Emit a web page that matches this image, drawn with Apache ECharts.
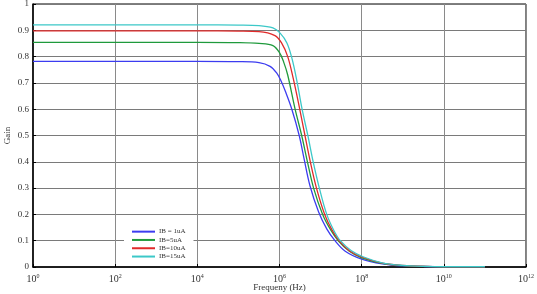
<!DOCTYPE html>
<html>
<head>
<meta charset="utf-8">
<script src="https://cdn.jsdelivr.net/npm/echarts@6/dist/echarts.min.js"></script>
<style>
  html, body { margin: 0; padding: 0; background: #fff; }
  #chart { width: 537px; height: 294px; }
</style>
</head>
<body>
<div id="chart"></div>
<script>
// frequency as log10(Hz), gain
var seriesNames = ['IB = 1uA', 'IB=5uA', 'IB=10uA', 'IB=15uA'];
var seriesColors = ['#3c3cf0', '#1f9a3c', '#e02a2a', '#3cc8c8'];

var ib1 = [[0, 0.782], [4, 0.782], [5, 0.781], [5.5, 0.777], [5.77, 0.763], [5.93, 0.738], [6.03, 0.71],
  [6.15, 0.665], [6.3, 0.6], [6.48, 0.5], [6.6, 0.41], [6.74, 0.31], [6.95, 0.21], [7.15, 0.145],
  [7.35, 0.1], [7.6, 0.06], [8.0, 0.03], [8.5, 0.012], [9, 0.004], [9.5, 0.002], [10, 0.001], [11, 0.001]];
var ib5 = [[0, 0.854], [4, 0.854], [5, 0.853], [5.5, 0.85], [5.84, 0.842], [6.0, 0.815], [6.1, 0.78],
  [6.2, 0.73], [6.38, 0.6], [6.54, 0.5], [6.68, 0.4], [6.83, 0.3], [7.05, 0.2], [7.25, 0.14],
  [7.43, 0.1], [7.7, 0.06], [8.0, 0.035], [8.5, 0.014], [9, 0.005], [9.5, 0.002], [10, 0.001], [11, 0.001]];
var ib10 = [[0, 0.898], [4, 0.898], [5, 0.897], [5.5, 0.895], [5.89, 0.88], [6.05, 0.852], [6.2, 0.8],
  [6.33, 0.72], [6.48, 0.61], [6.62, 0.5], [6.75, 0.4], [6.9, 0.3], [7.1, 0.2], [7.28, 0.14],
  [7.45, 0.1], [7.7, 0.062], [8.0, 0.038], [8.5, 0.015], [9, 0.006], [9.5, 0.002], [10, 0.001], [11, 0.001]];
var ib15 = [[0, 0.921], [4, 0.921], [5, 0.92], [5.5, 0.918], [5.84, 0.909], [6.01, 0.89], [6.18, 0.852],
  [6.3, 0.795], [6.42, 0.71], [6.55, 0.6], [6.69, 0.5], [6.82, 0.4], [6.97, 0.3], [7.15, 0.2],
  [7.32, 0.14], [7.48, 0.1], [7.75, 0.062], [8.05, 0.038], [8.5, 0.016], [9, 0.006], [9.5, 0.002], [10, 0.001], [11, 0.001]];
var allData = [ib1, ib5, ib10, ib15];

var myChart = echarts.init(document.getElementById('chart'), null, { renderer: 'canvas' });
var font = 'Liberation Serif';

var option = {
    animation: false,
    textStyle: { fontFamily: font },
    grid: {
        left: 33, right: 11, top: 4, bottom: 27,
        outerBoundsMode: 'none',
        containLabel: false,
        show: true, borderColor: '#000', borderWidth: 1
    },
    legend: {
        orient: 'vertical',
        left: 124, top: 226,
        backgroundColor: '#fff',
        padding: [2, 8, 2, 8],
        itemWidth: 23, itemHeight: 2, itemGap: 1,
        icon: 'rect',
        textStyle: { fontFamily: font, fontSize: 7, lineHeight: 7.3, color: '#333', padding: [0, 0, 0, -1] },
        data: seriesNames
    },
    xAxis: {
        type: 'value',
        min: 0, max: 12, interval: 2,
        name: 'Frequeny (Hz)',
        nameLocation: 'middle',
        nameGap: 16,
        nameMoveOverlap: false,
        nameTextStyle: { fontFamily: font, fontSize: 9, color: '#333' },
        axisLine: { lineStyle: { color: '#000', width: 1.5 } },
        axisTick: { inside: true, length: 3, lineStyle: { color: '#000' } },
        axisLabel: {
            margin: 6,
            formatter: function (v) { return '{b|10}{s|' + v + '}'; },
            rich: {
                b: { fontFamily: font, fontSize: 10, color: '#333', lineHeight: 12 },
                s: { fontFamily: font, fontSize: 6, color: '#333', lineHeight: 6, verticalAlign: 'top' }
            }
        },
        splitLine: { show: true, lineStyle: { color: '#8a8a8a', width: 1 } }
    },
    yAxis: {
        type: 'value',
        min: 0, max: 1, interval: 0.1,
        name: 'Gain',
        nameLocation: 'middle',
        nameGap: 21,
        nameMoveOverlap: false,
        nameTextStyle: { fontFamily: font, fontSize: 9, color: '#333' },
        axisLine: { lineStyle: { color: '#000', width: 1.5 } },
        axisTick: { inside: true, length: 3, lineStyle: { color: '#000' } },
        axisLabel: {
            margin: 4,
            fontFamily: font, fontSize: 9, color: '#333',
            formatter: function (v) { return String(Math.round(v * 10) / 10); }
        },
        splitLine: { show: true, lineStyle: { color: '#7a7a7a', width: 1 } }
    },
    series: allData.map(function (d, i) {
        return {
            name: seriesNames[i],
            type: 'line',
            data: d,
            smooth: 0.35,
            showSymbol: false,
            symbol: 'none',
            color: seriesColors[i],
            lineStyle: { color: seriesColors[i], width: 1.3 }
        };
    })
};

myChart.setOption(option);
</script>
</body>
</html>
